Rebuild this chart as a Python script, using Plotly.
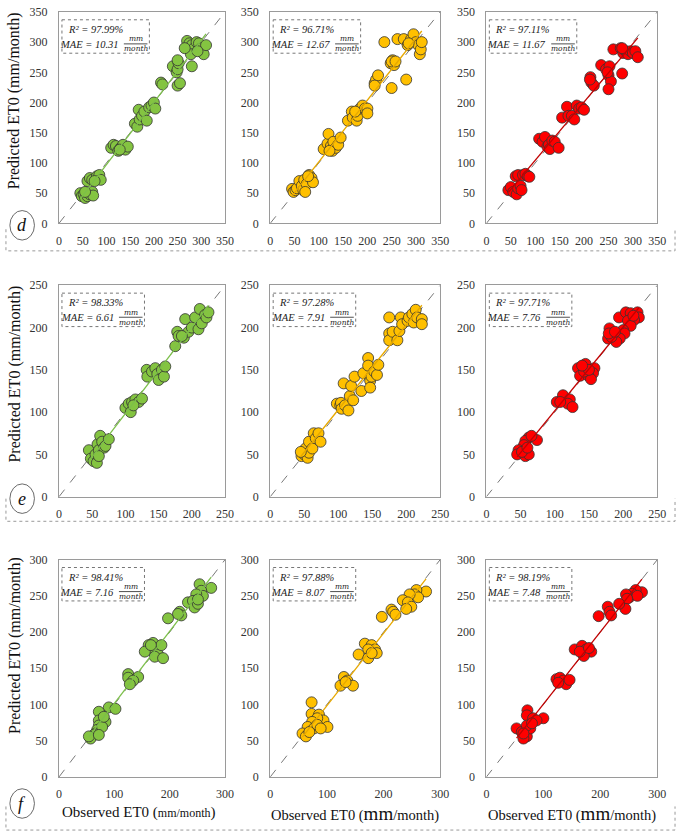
import numpy as np
import plotly.graph_objects as go

W, H = 685, 840

# ---- data: observed / predicted ET0 (mm/month), rows d, e, f ; cols = 3 models
d_green_obs = [45, 48, 52, 55, 60, 65, 70, 72, 60, 65, 70, 80, 85, 88, 75, 55,
               110, 115, 120, 125, 130, 135, 140, 145, 128,
               160, 165, 168, 170, 175, 180, 185, 190, 195, 200, 203,
               215, 218, 240, 248, 250, 250, 255, 252, 250, 280,
               270, 275, 280, 285, 290, 295, 300, 305, 310, 278, 265, 292]
d_green_pred = [50, 45, 48, 42, 45, 48, 52, 46, 70, 75, 72, 78, 80, 72, 70, 52,
                125, 130, 128, 120, 125, 130, 122, 127, 122,
                165, 160, 188, 172, 178, 185, 170, 192, 195, 200, 190,
                233, 230, 260, 250, 255, 228, 232, 265, 270, 260,
                302, 298, 295, 290, 300, 298, 290, 280, 295, 280, 290, 285]

d_orange_obs = [45, 48, 52, 55, 60, 65, 68, 70, 75, 80, 85, 88, 72, 78,
                110, 118, 120, 125, 128, 130, 135, 140, 145, 122,
                160, 168, 170, 178, 180, 185, 190, 195, 200, 200, 175,
                215, 218, 222, 215, 248, 252, 255, 250, 258, 235, 250, 280,
                262, 275, 283, 290, 295, 300, 305, 308, 310, 312, 285]
d_orange_pred = [57, 52, 55, 58, 70, 62, 55, 72, 65, 80, 75, 68, 52, 78,
                 123, 132, 148, 128, 120, 135, 125, 130, 142, 120,
                 170, 185, 175, 170, 178, 190, 195, 190, 190, 182, 185,
                 232, 238, 245, 228, 265, 270, 262, 268, 268, 300, 224, 238,
                 305, 305, 295, 305, 313, 300, 295, 280, 288, 300, 298]

d_red_obs = [45, 50, 55, 62, 65, 70, 72, 60, 65, 75, 80, 85, 88,
             108, 115, 120, 125, 128, 130, 135, 140, 148,
             155, 165, 168, 175, 180, 185, 190, 195, 200,
             213, 215, 220, 212, 235, 245, 250, 252, 255, 250, 278, 248,
             260, 275, 280, 285, 290, 295, 300, 305, 310, 278]
d_red_pred = [55, 60, 52, 48, 58, 62, 55, 78, 80, 80, 82, 78, 77,
              140, 135, 143, 127, 130, 123, 137, 135, 125,
              175, 193, 178, 178, 172, 195, 190, 192, 188,
              242, 233, 228, 238, 262, 255, 245, 260, 235, 222, 248, 250,
              288, 290, 282, 285, 280, 285, 282, 285, 275, 290]

e_green_obs = [45, 48, 52, 55, 58, 60, 62, 65, 68, 70, 75, 57, 60,
               100, 105, 108, 110, 115, 120, 125, 112,
               132, 133, 140, 145, 148, 150, 155, 158, 160,
               175, 178, 180, 188, 190, 195, 200, 205, 210, 212, 215, 220, 222, 225, 185]
e_green_pred = [55, 45, 42, 50, 62, 55, 72, 65, 58, 60, 68, 40, 48,
                105, 110, 100, 112, 115, 112, 116, 108,
                150, 142, 148, 152, 145, 138, 150, 142, 154,
                178, 195, 190, 188, 210, 195, 200, 212, 198, 222, 205, 215, 212, 218, 190]

e_orange_obs = [46, 50, 52, 55, 57, 57, 62, 64, 67, 71, 74, 45,
                98, 103, 104, 105, 110, 115,
                108, 117, 119, 122, 124, 134, 137, 144, 144, 147, 147, 149, 153, 157, 159,
                175, 175, 175, 180, 187, 190, 192, 194, 202, 204, 209, 211, 214, 216, 223, 223]
e_orange_pred = [48, 50, 57, 46, 52, 65, 57, 75, 69, 75, 65, 53,
                 110, 108, 111, 104, 108, 102,
                 134, 119, 131, 114, 142, 125, 146, 164, 155, 137, 129, 142, 148, 144, 156,
                 212, 193, 185, 195, 185, 196, 212, 204, 208, 212, 216, 206, 221, 212, 210, 204]

e_red_obs = [62, 74, 57, 55, 47, 45, 57, 62, 52, 66, 60,
             103, 112, 122, 119, 126, 108,
             134, 145, 158, 156, 137, 149, 153, 143, 150, 140,
             194, 204, 211, 221, 223, 216, 207, 211, 200, 202, 195, 190, 180, 178, 183, 179, 215, 188]
e_red_pred = [70, 67, 66, 61, 55, 50, 48, 50, 53, 72, 58,
              112, 120, 115, 110, 106, 112,
              152, 157, 152, 146, 143, 143, 139, 148, 150, 155,
              212, 218, 217, 218, 212, 209, 208, 202, 197, 193, 187, 183, 199, 187, 189, 193, 214, 195]

f_green_obs = [275, 254, 257, 260, 248, 233, 242, 245, 251, 251, 218, 221, 215, 197,
               170, 162, 170, 155, 179, 185, 173, 188, 166,
               125, 125, 143, 134, 128,
               90, 102, 78, 72, 72, 84, 72, 69, 66, 78, 63, 57, 54, 72, 81]
f_green_pred = [261, 266, 257, 250, 252, 241, 243, 234, 239, 245, 228, 223, 225, 219,
                185, 182, 178, 173, 169, 182, 166, 164, 182,
                142, 137, 138, 133, 128,
                96, 94, 85, 90, 78, 76, 71, 65, 60, 69, 58, 53, 56, 58, 83]

f_orange_obs = [275, 258, 255, 261, 246, 234, 243, 249, 240, 214, 217, 221, 197,
                167, 179, 185, 188, 173, 156, 173, 179,
                130, 136, 124, 146, 133,
                73, 73, 86, 94, 83, 74, 66, 57, 63, 77, 83, 101, 69, 89]
f_orange_pred = [256, 258, 252, 248, 252, 244, 241, 235, 232, 231, 228, 224, 221,
                 184, 182, 176, 171, 176, 169, 164, 171,
                 138, 133, 126, 126, 131,
                 103, 87, 86, 78, 81, 76, 69, 60, 56, 67, 72, 69, 62, 67]

f_red_obs = [273, 262, 256, 251, 265, 245, 247, 244, 233, 213, 216, 219, 197,
             155, 168, 175, 184, 171, 164, 180,
             123, 129, 135, 140, 146, 126,
             72, 71, 82, 100, 88, 53, 62, 71, 65, 77, 71, 80, 65]
f_red_pred = [255, 258, 253, 248, 250, 252, 246, 232, 239, 235, 228, 223, 222,
              176, 181, 176, 173, 167, 173, 178,
              135, 137, 133, 128, 134, 130,
              92, 85, 81, 81, 78, 67, 62, 56, 53, 67, 71, 74, 60]

r2_text = ["97.99%", "96.71%", "97.11%",
           "98.33%", "97.28%", "97.71%",
           "98.41%", "97.88%", "98.19%"]
mae_text = ["10.31", "12.67", "11.67",
            "6.61", "7.91", "7.76",
            "7.16", "8.07", "7.48"]

row_labels = ["d", "e", "f"]
axis_max = [350, 250, 300]
x_dtick = [50, 50, 100]
y_dtick = [50, 50, 50]

panels = [
    [(d_green_obs, d_green_pred), (d_orange_obs, d_orange_pred), (d_red_obs, d_red_pred)],
    [(e_green_obs, e_green_pred), (e_orange_obs, e_orange_pred), (e_red_obs, e_red_pred)],
    [(f_green_obs, f_green_pred), (f_orange_obs, f_orange_pred), (f_red_obs, f_red_pred)],
]

marker_colors = ["#84c441", "#ffc000", "#ff0000"]
line_colors = ["#7cbf4a", "#e6a800", "#c00000"]

# layout in pixels
col_px = [(57, 226), (272, 445), (492, 666)]
row_px = [(5, 220), (283, 498), (562, 783)]
ytitle_center = [95, 373, 649]
circle_center = [222, 500, 810]
bracket = [(226, 248), (500, 523), (813, 837)]

FONT = "Liberation Serif"
STAT_SIZE = 10.5


def px(x):
    return x / W


def py(y):
    return 1 - y / H


fig = go.Figure()
shapes = []
annotations = []

for r in range(3):
    for c in range(3):
        k = r * 3 + c + 1
        xa = "x" if k == 1 else f"x{k}"
        ya = "y" if k == 1 else f"y{k}"
        obs, pred = panels[r][c]
        m = axis_max[r]

        # 1:1 line
        fig.add_trace(go.Scatter(x=[0, m], y=[0, m], mode="lines", xaxis=xa, yaxis=ya,
                                 line=dict(color="#555555", width=0.8, dash="dash"),
                                 showlegend=False, hoverinfo="skip"))
        # points
        fig.add_trace(go.Scatter(x=obs, y=pred, mode="markers", xaxis=xa, yaxis=ya,
                                 marker=dict(size=11, color=marker_colors[c],
                                             line=dict(color="#333333", width=0.8)),
                                 showlegend=False))
        # trend line
        a, b = np.polyfit(obs, pred, 1)
        xs = np.array([min(obs), max(obs)])
        fig.add_trace(go.Scatter(x=xs, y=a * xs + b, mode="lines", xaxis=xa, yaxis=ya,
                                 line=dict(color=line_colors[c], width=1.3),
                                 showlegend=False, hoverinfo="skip"))

        x0, x1 = col_px[c]
        y0, y1 = row_px[r]
        axis_common = dict(showgrid=False, zeroline=False, showline=True, mirror=True,
                           linecolor="#9a9a9a", linewidth=1, ticks="",
                           tickfont=dict(family=FONT, size=12, color="#333333"),
                           range=[0, m])
        fig.layout[("xaxis" if k == 1 else f"xaxis{k}")] = dict(
            axis_common, domain=[px(x0), px(x1)], anchor=ya, dtick=x_dtick[r],
            ticklabelstandoff=6)
        fig.layout[("yaxis" if k == 1 else f"yaxis{k}")] = dict(
            axis_common, domain=[py(y1), py(y0)], anchor=xa, dtick=y_dtick[r],
            ticklabelstandoff=8)

        # stats box
        mae_str = "MAE = " + mae_text[k - 1]
        mae_right = x0 + 7 + (56 if len(mae_text[k - 1]) == 5 else 51)
        fx = mae_right + 15
        shapes.append(dict(type="rect", xref="paper", yref="paper",
                           x0=px(x0 + 3), x1=px(fx + 14),
                           y0=py(y0 + 8), y1=py(y0 + 42),
                           line=dict(color="#777777", width=1, dash="dot")))
        annotations.append(dict(xref="paper", yref="paper", x=px(x0 + 7), y=py(y0 + 18),
                                xanchor="left", yanchor="middle", showarrow=False,
                                text="<i>R² = " + r2_text[k - 1] + "</i>",
                                font=dict(family=FONT, size=STAT_SIZE, color="#222222")))
        annotations.append(dict(xref="paper", yref="paper", x=px(mae_right), y=py(y0 + 33),
                                xanchor="right", yanchor="middle", showarrow=False,
                                text="<i>" + mae_str + "</i>",
                                font=dict(family=FONT, size=STAT_SIZE, color="#222222")))
        annotations.append(dict(xref="paper", yref="paper", x=px(fx), y=py(y0 + 27.5),
                                xanchor="center", yanchor="middle", showarrow=False,
                                text="<i>mm</i>",
                                font=dict(family="DejaVu Serif", size=7.5, color="#222222")))
        annotations.append(dict(xref="paper", yref="paper", x=px(fx), y=py(y0 + 37.5),
                                xanchor="center", yanchor="middle", showarrow=False,
                                text="<i>month</i>",
                                font=dict(family="DejaVu Serif", size=7.5, color="#222222")))
        shapes.append(dict(type="line", xref="paper", yref="paper",
                           x0=px(fx - 12), x1=px(fx + 12),
                           y0=py(y0 + 32.5), y1=py(y0 + 32.5),
                           line=dict(color="#222222", width=0.8)))

    # y-axis title
    annotations.append(dict(xref="paper", yref="paper", x=px(12), y=py(ytitle_center[r]),
                            xanchor="center", yanchor="middle", showarrow=False, textangle=-90,
                            text="Predicted ET0 (mm/month)",
                            font=dict(family=FONT, size=16, color="#111111")))
    # row label in ellipse
    cy = circle_center[r]
    shapes.append(dict(type="circle", xref="paper", yref="paper",
                       x0=px(7), x1=px(32), y0=py(cy + 15), y1=py(cy - 15),
                       line=dict(color="#444444", width=0.8)))
    annotations.append(dict(xref="paper", yref="paper", x=px(19.5), y=py(cy),
                            xanchor="center", yanchor="middle", showarrow=False,
                            text="<i>" + row_labels[r] + "</i>",
                            font=dict(family=FONT, size=18, color="#111111")))
    # dotted bracket under each row
    bt, bb = bracket[r]
    shapes.append(dict(type="path", xref="paper", yref="paper",
                       path=f"M {px(3)},{py(bt)} L {px(3)},{py(bb)} L {px(684)},{py(bb)} L {px(684)},{py(bt)}",
                       line=dict(color="#999999", width=1, dash="dot")))

# x-axis titles (bottom row)
annotations.append(dict(xref="paper", yref="paper", x=px(138), y=py(819),
                        xanchor="center", yanchor="middle", showarrow=False,
                        text='Observed ET0 (<span style="font-size:12px">mm/month</span>)',
                        font=dict(family=FONT, size=15, color="#111111")))
for cx in (358, 579):
    annotations.append(dict(xref="paper", yref="paper", x=px(cx), y=py(820),
                            xanchor="center", yanchor="middle", showarrow=False,
                            text='Observed ET0 (<span style="font-size:19px">mm</span>/month)',
                            font=dict(family=FONT, size=14.5, color="#111111")))

fig.update_layout(width=W, height=H, margin=dict(l=0, r=0, t=0, b=0),
                  paper_bgcolor="white", plot_bgcolor="white",
                  shapes=shapes, annotations=annotations)

fig.write_html("out.html", config={"displayModeBar": False},
               post_script="document.body.style.margin='0';")
